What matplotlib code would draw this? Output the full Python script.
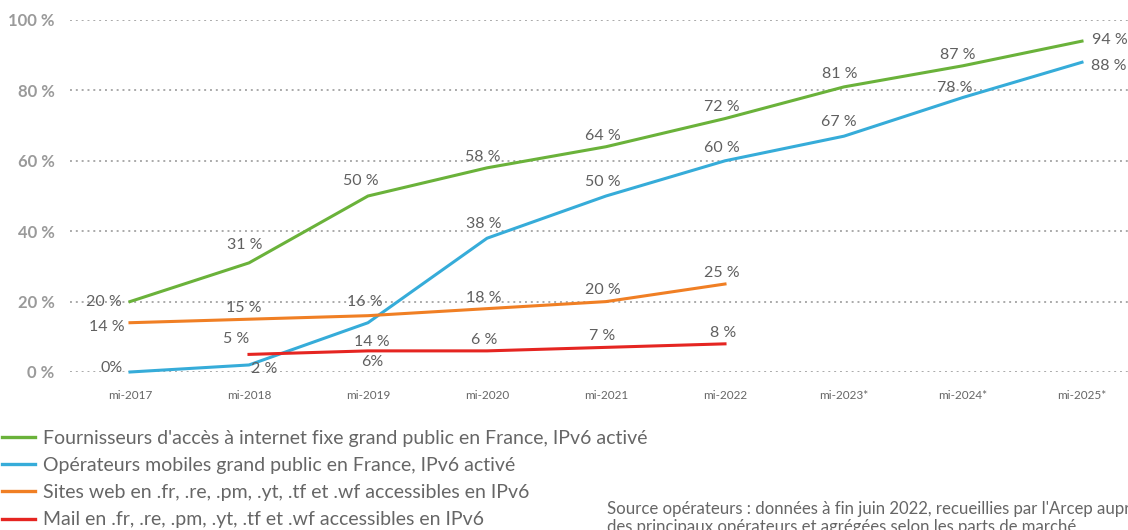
import matplotlib
matplotlib.use("Agg")
import matplotlib.pyplot as plt
import numpy as np
from matplotlib.lines import Line2D

plt.rcParams['font.family'] = ['Lato', 'DejaVu Sans']

periods = ["mi-2017", "mi-2018", "mi-2019", "mi-2020", "mi-2021", "mi-2022",
           "mi-2023*", "mi-2024*", "mi-2025*"]
fixe = [20, 31, 50, 58, 64, 72, 81, 87, 94]
mobile = [0, 2, 14, 38, 50, 60, 67, 78, 88]
web = [14, 15, 16, 18, 20, 25]
mail = [5, 6, 6, 7, 8]  # from mi-2018

fixe_labels = ["20 %", "31 %", "50 %", "58 %", "64 %", "72 %", "81 %", "87 %", "94 %"]
mobile_labels = ["0%", "2 %", "14 %", "38 %", "50 %", "60 %", "67 %", "78 %", "88 %"]
web_labels = ["14 %", "15 %", "16 %", "18 %", "20 %", "25 %"]
mail_labels = ["5 %", "6%", "6 %", "7 %", "8 %"]

legend_labels = [
    "Fournisseurs d'accès à internet fixe grand public en France, IPv6 activé",
    "Opérateurs mobiles grand public en France, IPv6 activé",
    "Sites web en .fr, .re, .pm, .yt, .tf et .wf accessibles en IPv6",
    "Mail en .fr, .re, .pm, .yt, .tf et .wf accessibles en IPv6",
]
source_text = ("Source opérateurs : données à fin juin 2022, recueillies par l'Arcep auprès\n"
               "des principaux opérateurs et agrégées selon les parts de marché")

c_green = "#6ab23a"
c_blue = "#36acd9"
c_orange = "#f07f24"
c_red = "#e52521"
lbl_color = "#606060"

W, H = 1128, 530
fig = plt.figure(figsize=(W / 100, H / 100), dpi=100)
ax = fig.add_axes([70 / W, 1 - 372 / H, 1 - 70 / W, (372 - 20) / H])
ax.set_ylim(0, 100)
ax.set_xlim(-60 / 119, 8 + 46 / 119)

x_all = np.arange(len(periods))
lw = 2.2
ax.plot(x_all, fixe, color=c_green, lw=lw, zorder=3, clip_on=False)
ax.plot(x_all, mobile, color=c_blue, lw=lw, zorder=3, clip_on=False)
ax.plot(x_all[:len(web)], web, color=c_orange, lw=lw, zorder=3, clip_on=False)
ax.plot(x_all[1:1 + len(mail)], mail, color=c_red, lw=lw, zorder=3, clip_on=False)

for s in ax.spines.values():
    s.set_visible(False)
ax.set_yticks([0, 20, 40, 60, 80, 100])
ax.set_yticklabels(["0 %", "20 %", "40 %", "60 %", "80 %", "100 %"],
                   fontsize=12, fontweight="bold", color="#9a9a9a")
ax.set_xticks(x_all)
ax.set_xticklabels(periods, fontsize=8.5, color="#666666")
ax.tick_params(axis="both", length=0)
ax.tick_params(axis="y", pad=11)
ax.tick_params(axis="x", pad=13)
for yv in [0, 20, 40, 60, 80, 100]:
    ax.axhline(yv, color="#aaaaaa", lw=1.4, ls=(0, (1, 2)), zorder=1)

fs = 11.5

def lab(x, y, s, dx, dy, ha="center", va="center"):
    ax.annotate(s, (x, y), xytext=(dx, dy), textcoords="offset points",
                ha=ha, va=va, fontsize=fs, color=lbl_color, zorder=4)

# offsets in points
fixe_off = [(-19, 0), (-3, 13), (-5, 11), (-3, 8), (-2, 8), (-2, 8), (-3, 9), (-4, 8), (20, 1)]
mobile_off = [(-13, 3), (11, -3), (3, -14), (-2, 10), (-2, 10), (-2, 9), (-4, 10), (-6, 7), (19, -3)]
web_off = [(-17, -3), (-4, 8), (-2, 10), (-2, 8), (-2, 8), (-2, 8)]
mail_off = [(-9, 11), (3, -8), (-2, 8), (-3, 8), (-1, 8)]

for i, (v, s) in enumerate(zip(fixe, fixe_labels)):
    lab(i, v, s, *fixe_off[i])
for i, (v, s) in enumerate(zip(mobile, mobile_labels)):
    lab(i, v, s, *mobile_off[i])
for i, (v, s) in enumerate(zip(web, web_labels)):
    lab(i, v, s, *web_off[i])
for i, (v, s) in enumerate(zip(mail, mail_labels)):
    lab(i + 1, v, s, *mail_off[i])

handles = [Line2D([], [], color=c, lw=2.4) for c in [c_green, c_blue, c_orange, c_red]]
leg = fig.legend(handles, legend_labels, loc="upper left",
                 bbox_to_anchor=(2 / W, 1 - 430 / H), frameon=False,
                 fontsize=14, handlelength=1.7, handletextpad=0.4,
                 labelspacing=0.52, borderaxespad=0, borderpad=0)
for t in leg.get_texts():
    t.set_color("#666666")

fig.text(607 / W, 1 - 518 / H, source_text, fontsize=12.1, color="#666666",
         ha="left", va="center", linespacing=1.1)

fig.savefig("out.png", dpi=100)
